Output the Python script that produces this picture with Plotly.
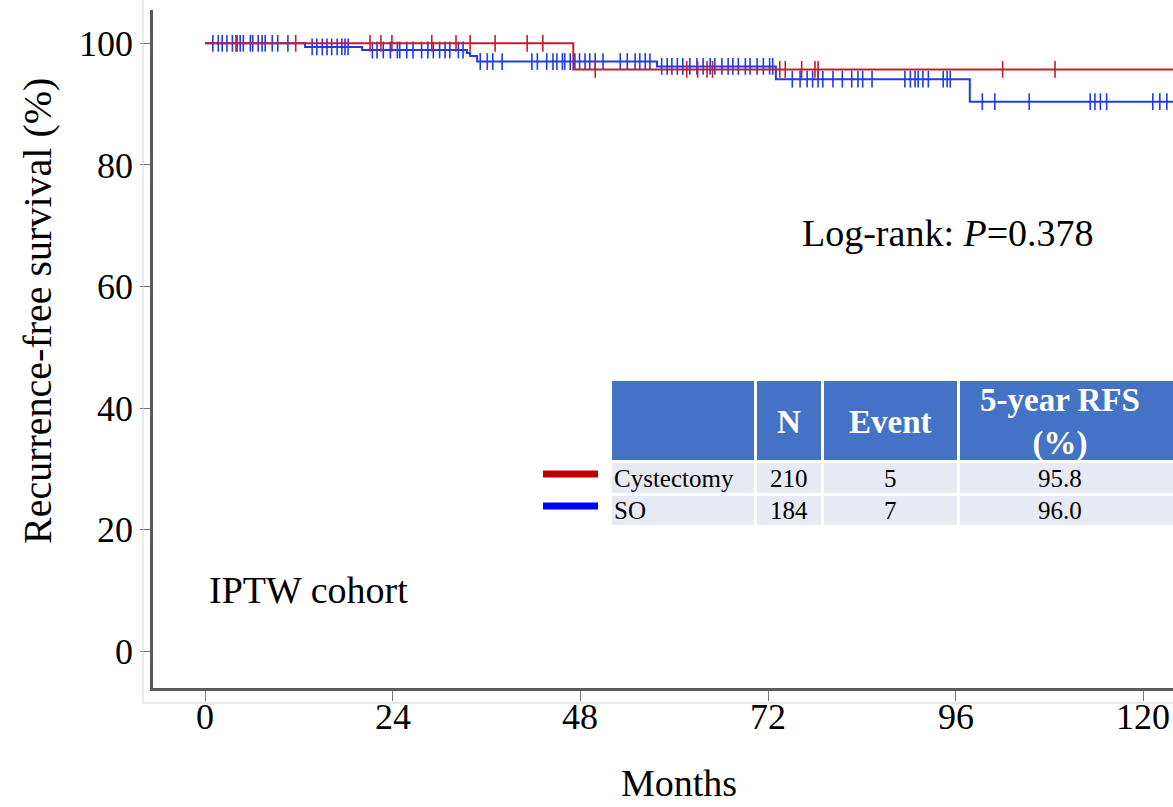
import numpy as np
import plotly.graph_objects as go

# ---------------- data ----------------
red_times = [0, 47.1]
red_surv = [100, 95.7]
red_censor = [3.96, 11.6, 21.1, 22.5, 23.9, 29.0, 32.1, 33.9, 37.1, 41.2, 43.2, 49.9,
              61.6, 63.0, 64.2, 64.9, 73.5, 74.2, 76.3, 78.0, 78.4, 102.0, 108.7]

blue_times = [0, 12.8, 20.1, 33.5, 33.9, 34.8, 57.8, 73.0, 97.8]
blue_surv = [100, 99.4, 98.9, 98.4, 97.9, 97.0, 96.2, 94.1, 90.4]
blue_censor = [1.0, 1.7, 2.2, 2.8, 3.5, 4.1, 4.5, 4.9, 5.8, 6.1, 6.8, 7.3, 7.7, 8.6, 9.3, 10.6,
               13.7, 14.3, 15.0, 15.6, 16.2, 16.9, 17.5, 17.9, 18.3, 21.4, 22.0, 22.8, 23.7,
               24.6, 24.9, 25.8, 26.6, 27.7, 28.5, 29.2, 30.0, 30.7, 31.3, 32.4, 33.0, 35.2,
               36.1, 36.8, 38.0, 41.8, 42.5, 43.7, 44.5, 45.0, 45.7, 46.0, 46.7, 47.3, 47.9,
               48.6, 49.2, 49.9, 50.9, 53.1, 54.0, 55.0, 55.6, 56.3, 56.9, 58.4, 59.1, 59.7,
               60.4, 61.1, 62.0, 62.9, 63.7, 64.6, 65.2, 66.1, 66.9, 67.5, 68.2, 69.1, 69.7,
               70.6, 71.4, 72.2, 72.6, 75.1, 76.1, 77.0, 77.7, 78.4, 79.0, 80.3, 81.5, 82.7,
               83.5, 84.1, 85.3, 89.5, 90.2, 90.8, 91.2, 91.8, 92.5, 94.4, 94.9, 95.3, 99.4,
               101.0, 105.4, 113.2, 113.8, 114.5, 115.3, 121.2, 122.1, 123.0]
follow_up_end = 126

x_ticks = [0, 24, 48, 72, 96, 120]
y_ticks = [0, 20, 40, 60, 80, 100]

groups = ["Cystectomy", "SO"]
n_pat = [210, 184]
n_event = [5, 7]
rfs5 = ["95.8", "96.0"]
header = ["", "N", "Event", "5-year RFS<br>(%)"]

RED_LINE = "#C41E2C"
BLUE_LINE = "#1E3CE8"
RED_KEY = "#C00000"
BLUE_KEY = "#0000FF"
FONT = "Liberation Serif"


def step_value(times, surv, t):
    idx = np.searchsorted(np.array(times), np.array(t), side="right") - 1
    return np.array(surv)[idx]


fig = go.Figure()
for times, surv, cens, col in [(blue_times, blue_surv, blue_censor, BLUE_LINE),
                               (red_times, red_surv, red_censor, RED_LINE)]:
    xs = list(times) + [follow_up_end]
    ys = list(surv) + [surv[-1]]
    fig.add_trace(go.Scatter(x=xs, y=ys, mode="lines", line=dict(color=col, width=2, shape="hv"),
                             showlegend=False, hoverinfo="skip", cliponaxis=True))
    fig.add_trace(go.Scatter(x=cens, y=step_value(times, surv, cens), mode="markers",
                             marker=dict(symbol="line-ns-open", size=12, color=col,
                                         line=dict(color=col, width=1.6)),
                             showlegend=False, hoverinfo="skip"))

# ---------------- layout geometry (pixels) ----------------
W, H = 1173, 807
L, R, T, B = 153, 0, 10, 119
PW, PH = W - L - R, H - T - B
X0_PX, PX_PER_MONTH = 205, 7.82
Y100_PX, PX_PER_PCT = 43.3, 6.08


def px(x):
    return (x - L) / PW


def py(y):
    return (H - B - y) / PH


shapes = []
annotations = []

# light outer frame
shapes.append(dict(type="line", xref="paper", yref="paper", x0=px(143), x1=px(143), y0=py(0), y1=py(703),
                   line=dict(color="#d4d4d4", width=1)))
shapes.append(dict(type="line", xref="paper", yref="paper", x0=px(143), x1=px(1180), y0=py(703), y1=py(703),
                   line=dict(color="#d4d4d4", width=1)))

# table
col_edges = [(612, 754), (757, 821), (824, 957), (960, 1190)]
col_centers = [None, 789, 890, 1060]
hdr_y = (381, 460)
row_y = [(463, 493), (496, 525)]
for (x0, x1) in col_edges:
    shapes.append(dict(type="rect", xref="paper", yref="paper", x0=px(x0), x1=px(x1),
                       y0=py(hdr_y[1]), y1=py(hdr_y[0]), fillcolor="#4472C4", line=dict(width=0)))
    for (y0, y1) in row_y:
        shapes.append(dict(type="rect", xref="paper", yref="paper", x0=px(x0), x1=px(x1),
                           y0=py(y1), y1=py(y0), fillcolor="#E8EAF3", line=dict(width=0)))

for i, txt in enumerate(header):
    if txt:
        annotations.append(dict(xref="paper", yref="paper", x=px(col_centers[i]), y=py(422),
                                text="<b>" + txt + "</b>", showarrow=False, xanchor="center",
                                yanchor="middle", font=dict(family=FONT, size=33, color="white")))

for r, (g, n, e, s) in enumerate(zip(groups, n_pat, n_event, rfs5)):
    yc = (row_y[r][0] + row_y[r][1]) / 2
    annotations.append(dict(xref="paper", yref="paper", x=px(612), y=py(yc), text=g, showarrow=False,
                            xanchor="left", yanchor="middle", font=dict(family=FONT, size=25, color="black")))
    for ci, val in zip([1, 2, 3], [n, e, s]):
        annotations.append(dict(xref="paper", yref="paper", x=px(col_centers[ci]), y=py(yc), text=str(val),
                                showarrow=False, xanchor="center", yanchor="middle",
                                font=dict(family=FONT, size=25, color="black")))

# legend keys
for r, col in enumerate([RED_KEY, BLUE_KEY]):
    yc = [474, 506][r]
    shapes.append(dict(type="rect", xref="paper", yref="paper", x0=px(543), x1=px(598),
                       y0=py(yc + 3.5), y1=py(yc - 3.5), fillcolor=col, line=dict(width=0)))

# x tick labels (placed through the x axis scale)
for t in x_ticks:
    annotations.append(dict(xref="x", yref="paper", x=t, y=py(717), text=str(t), showarrow=False,
                            xanchor="center", yanchor="middle",
                            font=dict(family=FONT, size=36, color="black")))

# text annotations
annotations.append(dict(xref="paper", yref="paper", x=px(800), y=py(233), text="Log-rank: <i>P</i>=0.378",
                        showarrow=False, xanchor="left", yanchor="middle",
                        font=dict(family=FONT, size=38, color="black")))
annotations.append(dict(xref="paper", yref="paper", x=px(207), y=py(590), text="IPTW cohort",
                        showarrow=False, xanchor="left", yanchor="middle",
                        font=dict(family=FONT, size=38, color="black")))
annotations.append(dict(xref="paper", yref="paper", x=px(37), y=py(311), text="Recurrence-free survival (%)",
                        showarrow=False, textangle=-90, xanchor="center", yanchor="middle",
                        font=dict(family=FONT, size=40, color="black")))
annotations.append(dict(xref="paper", yref="paper", x=px(679), y=py(783), text="Months",
                        showarrow=False, xanchor="center", yanchor="middle",
                        font=dict(family=FONT, size=38, color="black")))

xmin = (L - X0_PX) / PX_PER_MONTH
xmax = (W - R - X0_PX) / PX_PER_MONTH
ymin = -(H - B - (Y100_PX + 100 * PX_PER_PCT)) / PX_PER_PCT
ymax = 100 + (Y100_PX - T) / PX_PER_PCT

fig.update_layout(
    width=W, height=H,
    margin=dict(l=L, r=R, t=T, b=B, pad=0),
    paper_bgcolor="white", plot_bgcolor="white",
    shapes=shapes, annotations=annotations,
    font=dict(family=FONT, color="black"),
    xaxis=dict(range=[xmin, xmax], tickvals=x_ticks, showticklabels=False,
               showgrid=False, zeroline=False, showline=True, linecolor="#5a5a5a", linewidth=2.5,
               ticks="outside", ticklen=10, tickwidth=1, tickcolor="#777777"),
    yaxis=dict(range=[ymin, ymax], tickvals=y_ticks, ticktext=[str(v) for v in y_ticks],
               showgrid=False, zeroline=False, showline=True, linecolor="#5a5a5a", linewidth=2.5,
               ticks="outside", ticklen=10, tickwidth=1, tickcolor="#777777",
               tickfont=dict(family=FONT, size=36, color="black")),
)

fig.write_html("out.html")
